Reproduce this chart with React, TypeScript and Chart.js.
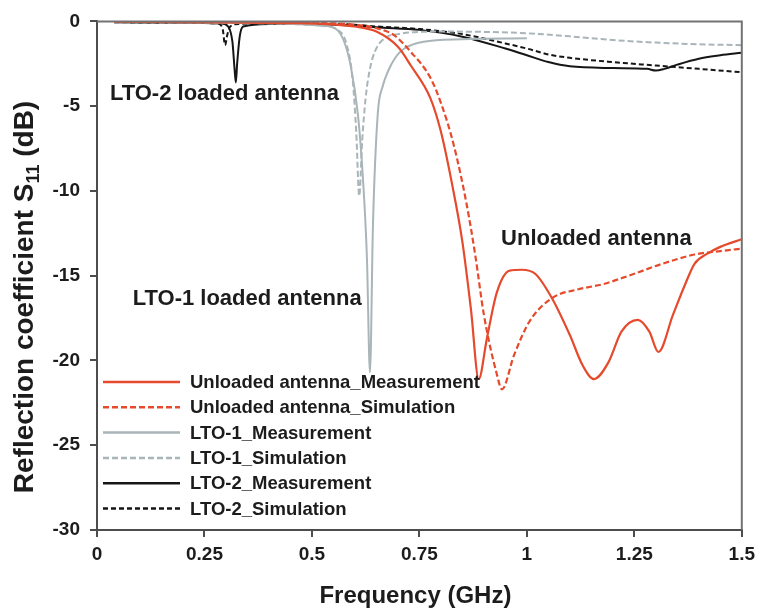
import React, { useEffect, useRef } from "react";
import { Chart, registerables } from "chart.js";

Chart.register(...registerables);

// ---------- DATA ----------
const unloadedMeasFreq = [0.04, 0.2, 0.35, 0.45, 0.55, 0.6, 0.65, 0.7, 0.73, 0.775, 0.8, 0.826, 0.85, 0.87, 0.888, 0.907, 0.93, 0.96, 0.988, 1.02, 1.06, 1.1, 1.13, 1.156, 1.19, 1.22, 1.258, 1.285, 1.306, 1.34, 1.37, 1.39, 1.42, 1.45, 1.5];
const unloadedMeasS11 = [-0.02, -0.04, -0.08, -0.1, -0.18, -0.3, -0.6, -1.5, -2.6, -4.5, -6.5, -9.6, -13, -17, -21.1, -18.7, -16, -14.7, -14.65, -14.9, -16.4, -18.5, -20.3, -21.1, -20.1, -18.3, -17.6, -18.3, -19.5, -17.3, -15.4, -14.3, -13.7, -13.3, -12.85];

const unloadedSimFreq = [0.04, 0.3, 0.5, 0.6, 0.65, 0.69, 0.73, 0.775, 0.8, 0.83, 0.86, 0.88, 0.9, 0.93, 0.942, 0.97, 1.006, 1.06, 1.12, 1.177, 1.237, 1.315, 1.39, 1.45, 1.5];
const unloadedSimS11 = [-0.02, -0.04, -0.08, -0.2, -0.4, -0.8, -1.8, -3.3, -4.8, -7.3, -10.8, -13.8, -17.3, -20.8, -21.7, -19.7, -17.7, -16.3, -15.8, -15.5, -15.0, -14.3, -13.75, -13.55, -13.4];

const lto1MeasFreq = [0.04, 0.3, 0.45, 0.52, 0.556, 0.575, 0.59, 0.607, 0.618, 0.628, 0.635, 0.642, 0.653, 0.665, 0.676, 0.695, 0.715, 0.76, 0.85, 1.0];
const lto1MeasS11 = [-0.05, -0.08, -0.15, -0.25, -0.45, -1.2, -2.6, -5.5, -9, -14, -20.7, -12, -5.5, -3.8, -3.0, -2.1, -1.6, -1.2, -1.05, -1.0];

const lto1SimFreq = [0.04, 0.3, 0.45, 0.52, 0.56, 0.58, 0.595, 0.603, 0.61, 0.617, 0.625, 0.635, 0.646, 0.669, 0.7, 0.8, 0.9, 1.0, 1.1, 1.2, 1.3, 1.4, 1.5];
const lto1SimS11 = [-0.05, -0.08, -0.15, -0.25, -0.5, -1.3, -3.5, -6.5, -10.3, -7, -4.5, -2.8, -1.8, -1.0, -0.75, -0.6, -0.62, -0.7, -0.88, -1.1, -1.25, -1.35, -1.4];

const lto2MeasFreq = [0.04, 0.2, 0.29, 0.305, 0.315, 0.32, 0.323, 0.326, 0.332, 0.34, 0.4, 0.5, 0.6, 0.65, 0.75, 0.85, 0.95, 1.0, 1.05, 1.1, 1.2, 1.28, 1.3, 1.32, 1.35, 1.4, 1.45, 1.5];
const lto2MeasS11 = [-0.05, -0.08, -0.12, -0.3, -1.2, -2.8, -3.6, -2.5, -0.9, -0.3, -0.15, -0.15, -0.25, -0.35, -0.5, -0.9, -1.6, -2.0, -2.4, -2.65, -2.75, -2.8, -2.9, -2.8, -2.55, -2.2, -2.0, -1.85];

const lto2SimFreq = [0.04, 0.2, 0.28, 0.292, 0.298, 0.303, 0.31, 0.33, 0.4, 0.5, 0.6, 0.65, 0.75, 0.85, 0.95, 1.0, 1.05, 1.1, 1.2, 1.3, 1.35, 1.4, 1.5];
const lto2SimS11 = [-0.05, -0.08, -0.12, -0.4, -1.4, -0.8, -0.3, -0.15, -0.12, -0.12, -0.2, -0.3, -0.45, -0.75, -1.3, -1.6, -1.95, -2.15, -2.4, -2.6, -2.7, -2.8, -3.0];

const seriesLabels = [
  "Unloaded antenna_Measurement",
  "Unloaded antenna_Simulation",
  "LTO-1_Measurement",
  "LTO-1_Simulation",
  "LTO-2_Measurement",
  "LTO-2_Simulation",
];

const xTickValues = [0, 0.25, 0.5, 0.75, 1, 1.25, 1.5];
const xTickLabels = ["0", "0.25", "0.5", "0.75", "1", "1.25", "1.5"];
const yTickValues = [0, -5, -10, -15, -20, -25, -30];
const yTickLabels = ["0", "-5", "-10", "-15", "-20", "-25", "-30"];

const annotationTexts = ["LTO-2 loaded antenna", "LTO-1 loaded antenna", "Unloaded antenna"];
const annotationFreqs = [0.03, 0.083, 0.94];
const annotationDbs = [-4.25, -16.35, -12.85];

const xTitle = "Frequency (GHz)";
const yTitleMain = "Reflection coefficient S";
const yTitleSub = "11";
const yTitleTail = " (dB)";

// ---------- STYLE ----------
const FONT = '"Liberation Sans", Arial, Helvetica, sans-serif';
const RED = "#e64a2d";
const GRAY = "#a9b5b8";
const BLACK = "#161616";
const TEXT = "#1c1c1c";
const AXIS = "#4d4d4d";

const pts = (f: number[], v: number[]) => f.map((x, i) => ({ x, y: v[i] }));

const overlay = {
  id: "overlay",
  afterDraw(chart: any) {
    const { ctx, chartArea, scales } = chart;
    const { left, right, top, bottom } = chartArea;
    const xs = scales.x;
    const ys = scales.y;
    ctx.save();
    // top & right frame
    ctx.strokeStyle = "#727272";
    ctx.lineWidth = 2;
    ctx.setLineDash([]);
    ctx.beginPath();
    ctx.moveTo(left, top);
    ctx.lineTo(right, top);
    ctx.lineTo(right, bottom);
    ctx.stroke();

    // annotations
    ctx.fillStyle = TEXT;
    ctx.font = `bold 22px ${FONT}`;
    ctx.textBaseline = "middle";
    ctx.textAlign = "left";
    annotationTexts.forEach((t, i) => {
      ctx.fillText(t, xs.getPixelForValue(annotationFreqs[i]), ys.getPixelForValue(annotationDbs[i]));
    });

    // legend
    const lx0 = left + 6;
    const lx1 = left + 83;
    const tx = left + 93;
    const row0 = bottom - 148;
    const step = 25.3;
    ctx.font = `bold 18.5px ${FONT}`;
    chart.data.datasets.forEach((ds: any, i: number) => {
      const yy = row0 + i * step;
      ctx.strokeStyle = ds.borderColor;
      ctx.lineWidth = 2.5;
      ctx.setLineDash(ds.borderDash || []);
      ctx.beginPath();
      ctx.moveTo(lx0, yy);
      ctx.lineTo(lx1, yy);
      ctx.stroke();
      ctx.setLineDash([]);
      ctx.fillStyle = TEXT;
      ctx.fillText(ds.label, tx, yy + 1);
    });

    // x title
    ctx.textAlign = "center";
    ctx.font = `bold 24px ${FONT}`;
    ctx.fillText(xTitle, (left + right) / 2 - 4, 596);

    // y title with subscript
    const F = 28;
    const S = 18;
    ctx.font = `bold ${F}px ${FONT}`;
    const w1 = ctx.measureText(yTitleMain).width;
    const w3 = ctx.measureText(yTitleTail).width;
    ctx.font = `bold ${S}px ${FONT}`;
    const w2 = ctx.measureText(yTitleSub).width;
    const total = w1 + w2 + w3;
    ctx.translate(25, 297);
    ctx.rotate(-Math.PI / 2);
    ctx.textAlign = "left";
    ctx.textBaseline = "middle";
    let cx = -total / 2;
    ctx.font = `bold ${F}px ${FONT}`;
    ctx.fillText(yTitleMain, cx, 0);
    cx += w1;
    ctx.font = `bold ${S}px ${FONT}`;
    ctx.fillText(yTitleSub, cx, 9);
    cx += w2;
    ctx.font = `bold ${F}px ${FONT}`;
    ctx.fillText(yTitleTail, cx, 0);
    ctx.restore();
  },
};

export default function App() {
  const ref = useRef<HTMLCanvasElement | null>(null);
  useEffect(() => {
    if (!ref.current) return;
    const common = { pointRadius: 0, fill: false, cubicInterpolationMode: "monotone" as const };
    const chart = new Chart(ref.current, {
      type: "line",
      data: {
        datasets: [
          { ...common, label: seriesLabels[0], data: pts(unloadedMeasFreq, unloadedMeasS11), borderColor: RED, borderWidth: 2.2 },
          { ...common, label: seriesLabels[1], data: pts(unloadedSimFreq, unloadedSimS11), borderColor: RED, borderWidth: 2.2, borderDash: [6, 3] },
          { ...common, label: seriesLabels[2], data: pts(lto1MeasFreq, lto1MeasS11), borderColor: GRAY, borderWidth: 2 },
          { ...common, label: seriesLabels[3], data: pts(lto1SimFreq, lto1SimS11), borderColor: GRAY, borderWidth: 2, borderDash: [6, 3] },
          { ...common, label: seriesLabels[4], data: pts(lto2MeasFreq, lto2MeasS11), borderColor: BLACK, borderWidth: 2 },
          { ...common, label: seriesLabels[5], data: pts(lto2SimFreq, lto2SimS11), borderColor: BLACK, borderWidth: 2, borderDash: [5, 3] },
        ],
      },
      options: {
        responsive: false,
        maintainAspectRatio: false,
        animation: false,
        devicePixelRatio: 1,
        layout: { padding: { top: 16, right: 14, left: 0, bottom: 0 } },
        plugins: { legend: { display: false }, tooltip: { enabled: false } },
        scales: {
          x: {
            type: "linear",
            min: 0,
            max: 1.5,
            afterFit: (s: any) => { s.height = 80; },
            afterBuildTicks: (s: any) => { s.ticks = xTickValues.map((v) => ({ value: v })); },
            ticks: {
              callback: (v: any) => { const i = xTickValues.indexOf(Number(v)); return i >= 0 ? xTickLabels[i] : ""; },
              font: { family: FONT, size: 19, weight: "bold" },
              color: TEXT,
              padding: 6,
              maxRotation: 0,
            },
            grid: { drawOnChartArea: false, drawTicks: true, tickLength: 7, color: AXIS, lineWidth: 2 },
            border: { display: true, color: AXIS, width: 2 },
          },
          y: {
            type: "linear",
            min: -30,
            max: 0,
            afterFit: (s: any) => { s.width = 97; },
            afterBuildTicks: (s: any) => { s.ticks = yTickValues.map((v) => ({ value: v })); },
            ticks: {
              callback: (v: any) => { const i = yTickValues.indexOf(Number(v)); return i >= 0 ? yTickLabels[i] : ""; },
              font: { family: FONT, size: 19, weight: "bold" },
              color: TEXT,
              padding: 10,
            },
            grid: { drawOnChartArea: false, drawTicks: true, tickLength: 7, color: AXIS, lineWidth: 2 },
            border: { display: true, color: AXIS, width: 2 },
          },
        },
      },
      plugins: [overlay],
    });
    return () => chart.destroy();
  }, []);
  return (
    <div style={{ position: "absolute", left: 0, top: 0, width: 761, height: 610, background: "#fff" }}>
      <canvas ref={ref} width={761} height={610} style={{ display: "block" }} />
    </div>
  );
}
